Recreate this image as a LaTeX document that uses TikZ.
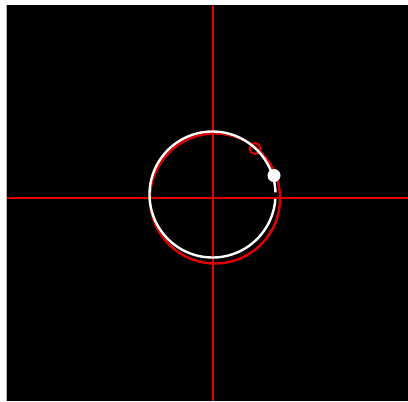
\documentclass[tikz,border=0pt]{standalone}
\usepackage{tikz}
\usetikzlibrary{positioning}

\tikzset{
  axis/.style={red!90!black, line width=0.55mm},
  ring/.style={line width=0.6mm},
}

\begin{document}
\begin{tikzpicture}[x=0.25mm,y=-0.25mm]
        \useasboundingbox (0,0) rectangle (408,401);
        \fill[white] (0,0) rectangle (408,401);
        \fill[black] (7,5) rectangle (408,401);
        \draw[gray!60, line width=0.2mm] (6.5,5) -- (6.5,401);

        \coordinate (Origin) at (213,198);
        \coordinate (Centre) at (215,198.5);
        \coordinate (Trace) at (212.5,194.5);
        \coordinate (Epicycle) at (255,148.5);
        \coordinate (Pen) at (274,175.5);

        % axes
        \draw [axis] (7,198) -- (408,198);
        \draw [axis] (213,5) -- (213,401);

        % circles
        \draw [ring, red!90!black] (Centre) circle (65);
        \draw [red!90!black, line width=0.5mm] (Epicycle) circle (5.5);
        \draw [ring, white] ([shift={(4:63)}]Trace) arc[start angle=4, end angle=358, radius=63];
        \fill [white] (Pen) circle (6.5);
    \end{tikzpicture}
\end{document}
